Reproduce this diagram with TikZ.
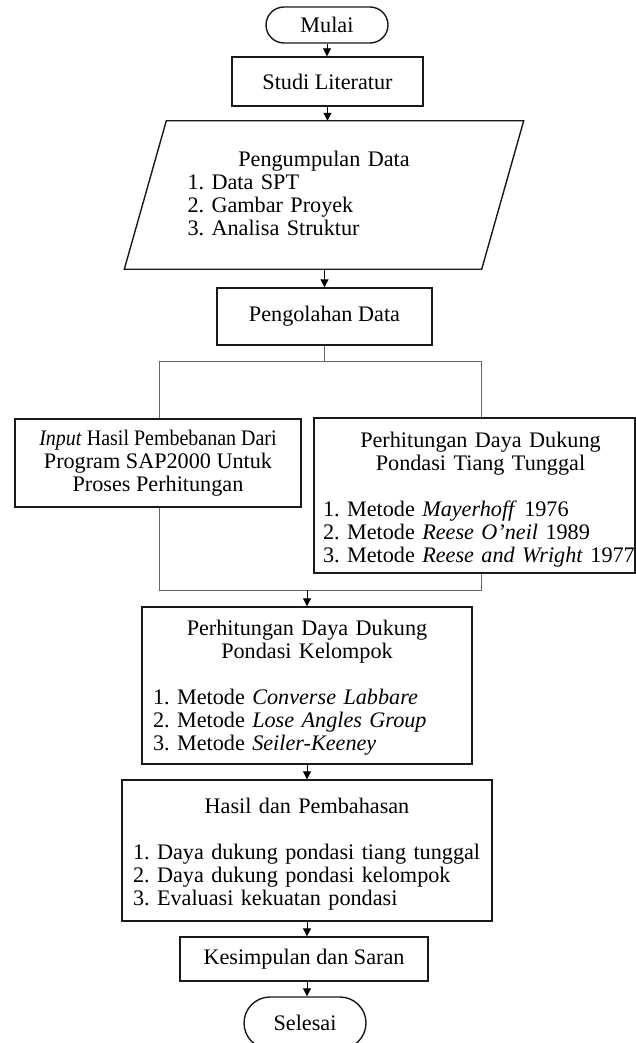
\documentclass[tikz,border=0pt]{standalone}
\usepackage{fontspec}
\setmainfont{Liberation Serif}
\usepackage{graphicx}
\usetikzlibrary{arrows.meta,calc,shapes.misc}
\newcommand{\fsz}{\fontsize{22.2pt}{23pt}\selectfont\frenchspacing}
\newcommand{\ctr}[2]{\makebox[#1][c]{#2}}
\begin{document}
\begin{tikzpicture}[x=1pt,y=-1pt,
  box/.style={draw=black!90,line width=1.4pt,inner sep=0pt,font=\fsz,align=center},
  term/.style={box,rounded rectangle},
  listbox/.style={box,align=left},
  arr/.style={draw=black,line width=0.9pt,-{Triangle[length=8pt,width=8pt]}},
  conn/.style={draw=black!60,line width=0.9pt}]
\fill[white] (0,0) rectangle (636,1043);
\useasboundingbox (0,0) rectangle (636,1043);

\node[term,minimum width=122pt,minimum height=36pt] (mulai) at (327,25) {Mulai};
\node[box,minimum width=191pt,minimum height=49pt] (studi) at (327.5,81.5) {Studi Literatur};

\node[font=\fsz,inner sep=0pt,text width=357pt,align=left,minimum height=148pt] (pd) at (324,193)
 {\ctr{357pt}{Pengumpulan Data}\\
  \hspace*{42pt}1. Data SPT\\
  \hspace*{42pt}2. Gambar Proyek\\
  \hspace*{42pt}3. Analisa Struktur};
\draw[draw=black!90,line width=1.4pt,line join=miter]
  ($(pd.north west)+(21,2)$) -- ($(pd.north east)+(21,2)$) --
  ($(pd.south east)+(-21,2)$) -- ($(pd.south west)+(-21,2)$) -- cycle;
\coordinate (pdtop) at ($(pd.north)+(0,2)$);
\coordinate (pdbot) at ($(pd.south)+(0,2)$);

\node[box,minimum width=215pt,minimum height=57pt] (po) at (324.5,316.5) {Pengolahan Data};

\node[box,minimum width=286pt,minimum height=88pt] (lb) at (158,463)
 {\scalebox{0.9}[1]{\textit{Input} Hasil Pembebanan Dari}\\ Program SAP2000 Untuk\\ Proses Perhitungan};

\node[listbox,text width=321pt,minimum height=155pt] (rb) at (474.5,495.5)
 {\ctr{321pt}{\rule{0pt}{23pt}\hspace{12pt}Perhitungan Daya Dukung}\\
  \ctr{321pt}{\hspace{12pt}Pondasi Tiang Tunggal}\\[23pt]
  \mbox{\hspace*{9pt}1. Metode \textit{Mayerhoff} 1976}\\
  \mbox{\hspace*{9pt}2. Metode \textit{Reese O'neil} 1989}\\
  \mbox{\hspace*{9pt}3. Metode \textit{Reese and Wright} 1977}};

\node[listbox,text width=330pt,minimum height=157pt] (kel) at (307,685.5)
 {\ctr{330pt}{\rule{0pt}{19pt}Perhitungan Daya Dukung}\\
  \ctr{330pt}{Pondasi Kelompok}\\[23pt]
  \hspace*{11pt}1. Metode \textit{Converse Labbare}\\
  \hspace*{11pt}2. Metode \textit{Lose Angles Group}\\
  \hspace*{11pt}3. Metode \textit{Seiler-Keeney}};

\node[listbox,text width=370pt,minimum height=141pt] (has) at (307,850.5)
 {\ctr{370pt}{\rule{0pt}{23pt}Hasil dan Pembahasan}\\[23pt]
  \hspace*{11pt}1. Daya dukung pondasi tiang tunggal\\
  \hspace*{11pt}2. Daya dukung pondasi kelompok\\
  \hspace*{11pt}3. Evaluasi kekuatan pondasi};

\node[box,minimum width=248pt,minimum height=44pt] (kes) at (304,959) {Kesimpulan dan Saran};
\node[term,minimum width=122pt,minimum height=52pt] (sel) at (305,1023) {Selesai};

% connectors
\draw[arr] (mulai.south) -- (mulai.south |- studi.north);
\draw[arr] (studi.south) -- (studi.south |- pdtop);
\draw[arr] (po.north |- pdbot) -- (po.north);

\coordinate (bL) at (159,361);
\coordinate (bR) at (481,361);
\draw[conn] (po.south) -- (po.south |- bL);
\draw[conn] (bL) -- (bR);
\draw[conn] (bL) -- (bL |- lb.north);
\draw[conn] (bR) -- (bR |- rb.north);

\coordinate (mL) at (159,590);
\coordinate (mR) at (481,590);
\draw[conn] (mL |- lb.south) -- (mL) -- (mR) -- (mR |- rb.south);
\draw[arr] (kel.north |- mL) -- (kel.north);

\draw[arr] (kel.south) -- (kel.south |- has.north);
\draw[arr] (has.south) -- (has.south |- kes.north);
\draw[arr] (has.south |- kes.south) -- (has.south |- sel.north);
\end{tikzpicture}
\end{document}
